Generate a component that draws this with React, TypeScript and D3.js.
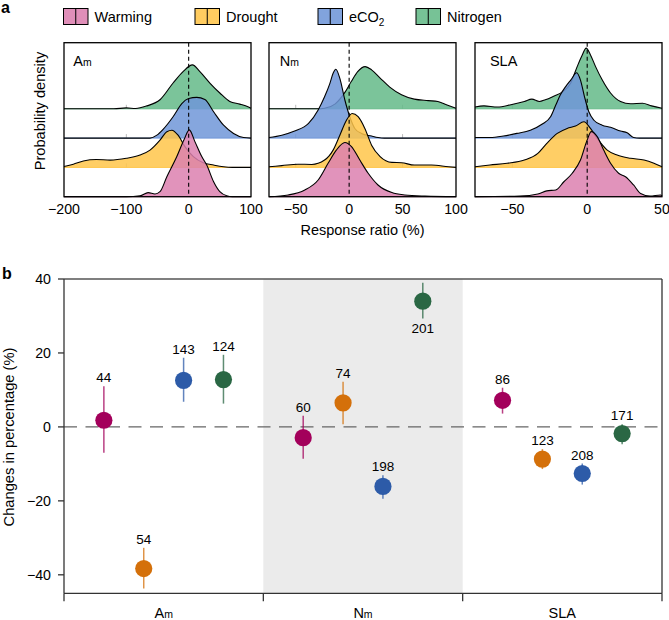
import React from "react";
import * as d3 from "d3";

type Pt = [number, number];

// ---------- shared ----------
const treatments = ["Warming", "Drought", "eCO2", "Nitrogen"];
const ridgeFill = ["#DC80AF", "#FFC54A", "#7096D8", "#64BA88"];
const pointColor = ["#A3005B", "#D4700A", "#2D5BA8", "#2A6744"];

// ---------- panel a : density ridges (x = response ratio %, y = relative density) ----------
const traitMain = ["A", "N", "SLA"];
const traitSub = ["m", "m", ""];
const domainsA: [number, number][] = [[-200, 100], [-75, 100], [-75, 50]];
const ticksA = [[-200, -100, 0, 100], [-50, 0, 50, 100], [-50, 0, 50]];

const amWarming: Pt[] = [[-200, 0], [-100, 0], [-78, 0.03], [-65, 0.14], [-54, 0.09], [-46, 0.17], [-35, 0.68], [-19, 1.37], [-7.5, 1.94], [1, 2.28], [10, 1.88], [21, 1.37], [29, 1.08], [40, 0.51], [50, 0.17], [61, 0.03], [70, 0], [100, 0]];
const amDrought: Pt[] = [[-200, 0.03], [-185, 0.11], [-169, 0.22], [-148, 0.27], [-126, 0.25], [-100, 0.31], [-78, 0.42], [-62, 0.59], [-46, 0.93], [-35, 1.22], [-27, 1.27], [-17, 1.1], [-6, 0.71], [7.5, 0.37], [23.5, 0.16], [40, 0.08], [56, 0.02], [70, 0], [100, 0]];
const amECO2: Pt[] = [[-200, 0], [-62, 0], [-51, 0.1], [-41, 0.3], [-25, 0.73], [-11, 1.18], [0, 1.35], [13, 1.39], [26, 1.32], [40, 0.9], [56, 0.44], [72, 0.16], [88, 0.02], [100, 0]];
const amNitrogen: Pt[] = [[-200, 0], [-120, 0], [-100, 0.03], [-85, 0.01], [-67, 0.1], [-46, 0.31], [-25, 0.88], [-9, 1.27], [6, 1.5], [18, 1.27], [34, 0.88], [50, 0.54], [66, 0.25], [82, 0.16], [96, 0.06], [100, 0.02]];

const nmWarming: Pt[] = [[-75, 0], [-57, 0.06], [-41.5, 0.23], [-29, 0.57], [-19.7, 1.14], [-12, 1.59], [-4, 1.85], [2.2, 1.71], [10, 1.25], [17.8, 0.8], [27, 0.4], [40, 0.14], [52, 0.06], [71, 0.02], [100, 0]];
const nmDrought: Pt[] = [[-75, 0.02], [-63, 0.06], [-48, 0.11], [-35, 0.1], [-23, 0.25], [-15, 0.59], [-8.7, 1.1], [-2.5, 1.61], [2.8, 1.84], [8.4, 1.73], [14.7, 1.33], [21, 0.76], [29, 0.37], [40, 0.17], [49, 0.16], [61, 0.08], [77, 0.08], [93, 0.02], [100, 0]];
const nmECO2: Pt[] = [[-75, 0.02], [-63, 0.1], [-51, 0.24], [-38, 0.5], [-29, 0.96], [-23, 1.41], [-18, 1.87], [-15, 2.21], [-12.5, 2.35], [-8.7, 2.04], [-4, 1.3], [0.6, 0.73], [5.3, 0.33], [11.5, 0.16], [21, 0.07], [27, 0.02], [33, 0], [100, 0]];
const nmNitrogen: Pt[] = [[-75, 0], [-30, 0], [-23, 0.02], [-13, 0.17], [-4, 0.56], [2, 0.93], [8, 1.27], [15, 1.44], [21, 1.33], [29, 1.05], [38, 0.74], [49, 0.48], [61, 0.33], [74, 0.28], [83, 0.25], [91, 0.14], [100, 0.02]];

const slaWarming: Pt[] = [[-75, 0], [-45, 0.02], [-33, 0.09], [-27, 0.2], [-21, 0.23], [-15.6, 0.51], [-10, 0.8], [-4.5, 1.25], [0, 1.94], [2.7, 2.22], [6.7, 2.05], [11, 1.59], [15.6, 1.14], [21, 0.8], [25.6, 0.68], [31, 0.4], [35.7, 0.11], [42, 0.02], [49, 0.06], [50, 0.02]];
const slaDrought: Pt[] = [[-75, 0.02], [-65, 0.08], [-53.5, 0.14], [-42, 0.25], [-33, 0.48], [-27, 0.82], [-20, 1.16], [-13.4, 1.33], [-7.8, 1.41], [-2.2, 1.56], [2.2, 1.33], [6.7, 0.99], [13.4, 0.59], [20, 0.42], [29, 0.31], [38, 0.25], [44.6, 0.14], [50, 0.02]];
const slaECO2: Pt[] = [[-75, 0.02], [-65, 0.02], [-56, 0.07], [-47, 0.16], [-38, 0.27], [-30, 0.48], [-24.5, 0.73], [-21, 1.13], [-18, 1.47], [-14.5, 1.75], [-11, 1.98], [-7, 2.23], [-4.5, 1.98], [-1.8, 1.41], [1.1, 0.9], [4.5, 0.61], [10, 0.44], [15.6, 0.37], [22.3, 0.24], [26.7, 0.18], [31, 0.02], [35, 0], [50, 0]];
const slaNitrogen: Pt[] = [[-75, 0.06], [-69, 0.1], [-60, 0.06], [-51, 0.14], [-42, 0.25], [-37, 0.33], [-32, 0.25], [-28, 0.31], [-22, 0.44], [-17, 0.56], [-11, 0.88], [-6.7, 1.44], [-3.3, 1.84], [-0.7, 2.07], [2.2, 1.84], [5.6, 1.44], [10, 0.99], [15.6, 0.54], [22.3, 0.25], [29, 0.17], [37, 0.19], [43, 0.1], [50, 0.02]];

const densities: Pt[][][] = [
  [amWarming, amDrought, amECO2, amNitrogen],
  [nmWarming, nmDrought, nmECO2, nmNitrogen],
  [slaWarming, slaDrought, slaECO2, slaNitrogen],
];

// ---------- panel b : mean change with 95% CI ----------
const traitsB = ["Am", "Nm", "SLA"];
const amMean = [1.8, -38.3, 12.6, 12.8];
const amLow = [-7, -43.7, 6.8, 6.3];
const amHigh = [11, -32.7, 18.7, 19.5];
const amN = [44, 54, 143, 124];
const nmMean = [-2.9, 6.5, -16.1, 34.0];
const nmLow = [-8.6, 0.7, -19.4, 29.3];
const nmHigh = [3.0, 12.2, -13.1, 39.0];
const nmN = [60, 74, 198, 201];
const slaMean = [7.2, -8.7, -12.6, -1.8];
const slaLow = [3.6, -11.4, -15.6, -4.7];
const slaHigh = [10.6, -6.0, -9.9, 0.7];
const slaN = [86, 123, 208, 171];
const yTicksB = [-40, -20, 0, 20, 40];

const pointsB = [
  { mean: amMean, low: amLow, high: amHigh, n: amN },
  { mean: nmMean, low: nmLow, high: nmHigh, n: nmN },
  { mean: slaMean, low: slaLow, high: slaHigh, n: slaN },
];

const FONT = "'Liberation Sans', Arial, Helvetica, sans-serif";

function TraitLabel({ i, x, y, size }: { i: number; x: number; y: number; size: number }) {
  return (
    <text x={x} y={y} fontSize={size} textAnchor="start">
      {traitMain[i]}
      {traitSub[i] ? <tspan fontSize={size * 0.72}>{traitSub[i]}</tspan> : null}
    </text>
  );
}

function PanelA() {
  const panelX: [number, number][] = [[64, 251], [269, 456], [475, 662]];
  const top = 42.7;
  const bottom = 196.7;
  const yRow = d3.scaleLinear().domain([0, 5.256]).range([bottom, top]);
  const labelX = [-185, -65, -65];
  const fmt = d3.format("d");
  const legendX = [63.5, 195, 318, 416];

  return (
    <g>
      <text x={1} y={13} fontSize={16} fontWeight="bold">a</text>
      {treatments.map((t, k) => (
        <g key={t} transform={`translate(${legendX[k]},8.5)`}>
          <rect width={24.5} height={16} fill={ridgeFill[k]} fillOpacity={0.88} stroke="#000" strokeWidth={1} />
          <line x1={12.25} x2={12.25} y1={0} y2={16} stroke="#000" strokeWidth={1} />
          <text x={31} y={13} fontSize={14.5}>
            {t === "eCO2" ? (
              <>
                eCO<tspan dy={4} fontSize={10}>2</tspan>
              </>
            ) : (
              t
            )}
          </text>
        </g>
      ))}
      {panelX.map((px, p) => {
        const x = d3.scaleLinear().domain(domainsA[p]).range(px);
        const area = (i: number) =>
          d3
            .area<Pt>()
            .x((d) => x(d[0]))
            .y0(yRow(i))
            .y1((d) => yRow(i + d[1]))
            .curve(d3.curveMonotoneX);
        const line = (i: number) =>
          d3
            .line<Pt>()
            .x((d) => x(d[0]))
            .y((d) => yRow(i + d[1]))
            .curve(d3.curveMonotoneX);
        const order = [3, 2, 1, 0];
        return (
          <g key={p}>
            {ticksA[p]
              .filter((t) => t > domainsA[p][0] && t < domainsA[p][1])
              .map((t) =>
                [1, 2, 3].map((r) => (
                  <line key={`${t}-${r}`} x1={x(t)} x2={x(t)} y1={yRow(r)} y2={yRow(r) - 4} stroke="#aaa" strokeWidth={0.8} />
                ))
              )}
            {order.map((i) => (
              <g key={i}>
                <path d={area(i)(densities[p][i]) || ""} fill={ridgeFill[i]} fillOpacity={0.85} />
                <line x1={px[0]} x2={px[1]} y1={yRow(i)} y2={yRow(i)} stroke={ridgeFill[i]} strokeWidth={1} />
                <path d={line(i)(densities[p][i]) || ""} fill="none" stroke="#000" strokeWidth={1.1} />
              </g>
            ))}
            <line x1={x(0)} x2={x(0)} y1={top} y2={bottom} stroke="#000" strokeWidth={1.1} strokeDasharray="4,3" />
            <rect x={px[0]} y={top} width={px[1] - px[0]} height={bottom - top} fill="none" stroke="#000" strokeWidth={1.3} />
            <TraitLabel i={p} x={x(labelX[p])} y={66} size={14.5} />
            {ticksA[p].map((t) => (
              <text key={t} x={x(t)} y={214} fontSize={14.2} textAnchor="middle">
                {fmt(t)}
              </text>
            ))}
          </g>
        );
      })}
      <text transform={`translate(45,111) rotate(-90)`} fontSize={14.6} textAnchor="middle">
        Probability density
      </text>
      <text x={362.5} y={235} fontSize={14.5} textAnchor="middle">
        Response ratio (%)
      </text>
    </g>
  );
}

function PanelB() {
  const left = 64;
  const right = 662;
  const top = 279;
  const bottom = 593.3;
  const y = d3.scaleLinear().domain([-45, 40]).range([bottom, top]);
  const xg = d3.scaleBand<string>().domain(traitsB).range([left, right]).padding(0);
  const xi = d3.scalePoint<string>().domain(treatments).range([0, xg.bandwidth()]).padding(1);
  const fmt = d3.format("d");
  const bounds = [left, ...traitsB.map((t) => (xg(t) as number) + xg.bandwidth())];

  return (
    <g>
      <text x={2} y={279} fontSize={16} fontWeight="bold">b</text>
      <rect x={xg("Nm")} y={top} width={xg.bandwidth()} height={bottom - top} fill="#EBEBEB" />
      <line x1={left} x2={right} y1={y(0)} y2={y(0)} stroke="#666" strokeWidth={1.3} strokeDasharray="13,8.5" />
      {pointsB.map((g, gi) => {
        const gx = xg(traitsB[gi]) as number;
        return treatments.map((t, k) => {
          const cx = gx + (xi(t) as number);
          const below = g.high[k] > 35;
          return (
            <g key={`${gi}-${k}`}>
              <line x1={cx} x2={cx} y1={y(g.low[k])} y2={y(g.high[k])} stroke={pointColor[k]} strokeOpacity={0.75} strokeWidth={1.5} />
              <circle cx={cx} cy={y(g.mean[k])} r={8.6} fill={pointColor[k]} />
              <text
                x={cx}
                y={below ? y(g.low[k]) + 14.5 : y(g.high[k]) - 4}
                fontSize={13.5}
                textAnchor="middle"
              >
                {g.n[k]}
              </text>
            </g>
          );
        });
      })}
      <line x1={left} x2={right} y1={top} y2={top} stroke="#555" strokeWidth={1.5} />
      <line x1={right} x2={right} y1={top} y2={bottom} stroke="#333" strokeWidth={1.3} />
      <line x1={left} x2={left} y1={top} y2={bottom} stroke="#333" strokeWidth={1.3} />
      <line x1={left} x2={right} y1={bottom} y2={bottom} stroke="#333" strokeWidth={1.3} />
      {bounds.map((b, i) => (
        <line key={i} x1={b} x2={b} y1={bottom} y2={bottom + 8} stroke="#333" strokeWidth={1.3} />
      ))}
      {yTicksB.map((t) => (
        <g key={t}>
          <line x1={left - 6} x2={left} y1={y(t)} y2={y(t)} stroke="#333" strokeWidth={1.3} />
          <text x={left - 13} y={y(t) + 5} fontSize={14.2} textAnchor="end">
            {fmt(t)}
          </text>
        </g>
      ))}
      {traitsB.map((t, i) => {
        const cx = (xg(t) as number) + xg.bandwidth() / 2;
        return (
          <text key={t} x={cx} y={618} fontSize={14.5} textAnchor="middle">
            {traitMain[i]}
            {traitSub[i] ? <tspan fontSize={10.5}>{traitSub[i]}</tspan> : null}
          </text>
        );
      })}
      <text transform={`translate(14,437) rotate(-90)`} fontSize={14.7} textAnchor="middle">
        Changes in percentage (%)
      </text>
    </g>
  );
}

export default function App() {
  return (
    <svg
      width={669}
      height={620}
      viewBox="0 0 669 620"
      style={{ position: "absolute", left: 0, top: 0, background: "#fff" }}
      fontFamily={FONT}
    >
      <rect width={669} height={620} fill="#fff" />
      <PanelA />
      <PanelB />
    </svg>
  );
}
